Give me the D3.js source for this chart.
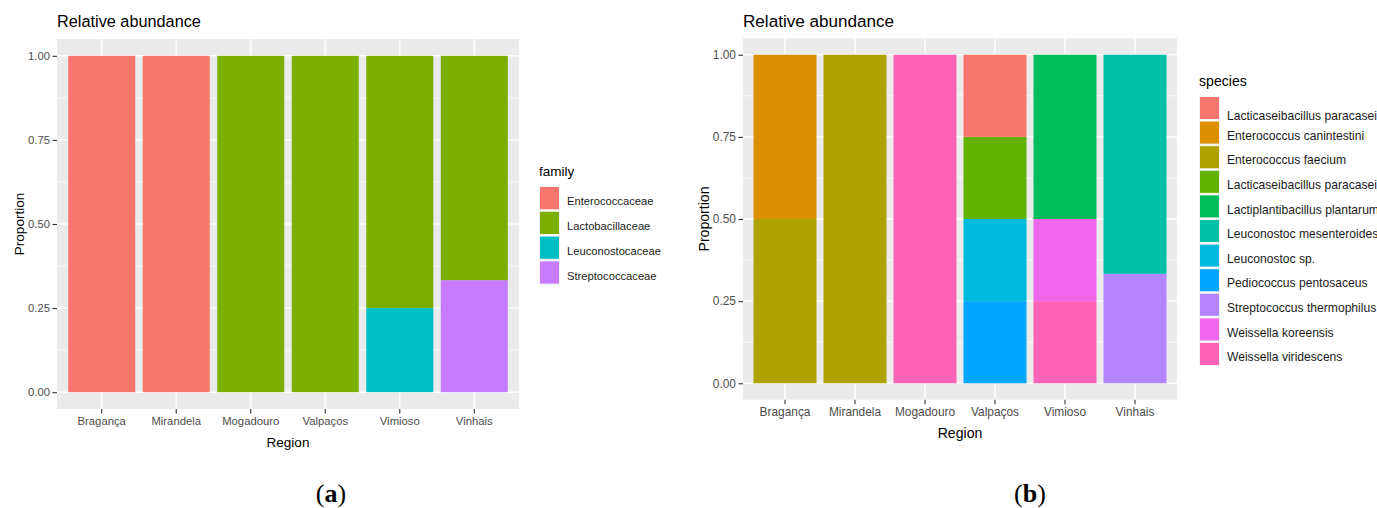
<!DOCTYPE html>
<html>
<head>
<meta charset="utf-8">
<script src="https://cdn.jsdelivr.net/npm/d3@7"></script>
<style>
  body { margin: 0; background: #fff; }
  svg { display: block; font-family: "Liberation Sans", Arial, sans-serif; }
</style>
</head>
<body>
<svg id="chart" width="1377" height="508"></svg>
<script>
// ---- data ----
const regions = ["Bragança", "Mirandela", "Mogadouro", "Valpaços", "Vimioso", "Vinhais"];
const yTicks = [0, 0.25, 0.5, 0.75, 1];

const families = ["Enterococcaceae", "Lactobacillaceae", "Leuconostocaceae", "Streptococcaceae"];
const familyColors = ["#F8766D", "#7CAE00", "#00BFC4", "#C77CFF"];
// one row per family, one value per region
const familyValues = [
  [1, 1, 0, 0, 0, 0],
  [0, 0, 1, 1, 0.75, 0.667],
  [0, 0, 0, 0, 0.25, 0],
  [0, 0, 0, 0, 0, 0.333]
];

const species = [
  "Lacticaseibacillus paracasei", "Enterococcus canintestini", "Enterococcus faecium",
  "Lacticaseibacillus paracasei", "Lactiplantibacillus plantarum", "Leuconostoc mesenteroides",
  "Leuconostoc sp.", "Pediococcus pentosaceus", "Streptococcus thermophilus",
  "Weissella koreensis", "Weissella viridescens"
];
const speciesColors = ["#F8766D", "#DB8E00", "#AEA200", "#64B200", "#00BD5C", "#00C1A7",
                       "#00BADE", "#00A6FF", "#B385FF", "#EF67EB", "#FF63B6"];
const speciesValues = [
  [0, 0, 0, 0.25, 0, 0],
  [0.5, 0, 0, 0, 0, 0],
  [0.5, 1, 0, 0, 0, 0],
  [0, 0, 0, 0.25, 0, 0],
  [0, 0, 0, 0, 0.5, 0],
  [0, 0, 0, 0, 0, 0.667],
  [0, 0, 0, 0.25, 0, 0],
  [0, 0, 0, 0.25, 0, 0],
  [0, 0, 0, 0, 0, 0.333],
  [0, 0, 0, 0, 0.25, 0],
  [0, 0, 1, 0, 0.25, 0]
];

const svg = d3.select("#chart");

function drawPanel(p) {
  const g = svg.append("g");
  const f = p.font;

  // ggplot style: 5% expansion on y, 0.6 units on discrete x
  const y = d3.scaleLinear().domain([-0.05, 1.05]).range([p.bottom, p.top]);
  const x = d3.scaleBand().domain(regions).range([p.left, p.right])
    .paddingInner(0.1).paddingOuter(0.15);

  // panel background
  g.append("rect")
    .attr("x", p.left).attr("y", p.top)
    .attr("width", p.right - p.left).attr("height", p.bottom - p.top)
    .attr("fill", "#EBEBEB");

  // minor grid
  g.selectAll(".minor").data([0.125, 0.375, 0.625, 0.875]).enter()
    .append("line")
    .attr("x1", p.left).attr("x2", p.right)
    .attr("y1", d => y(d)).attr("y2", d => y(d))
    .attr("stroke", "#fff").attr("stroke-width", 0.7);

  // major grid
  g.selectAll(".hmajor").data(yTicks).enter()
    .append("line")
    .attr("x1", p.left).attr("x2", p.right)
    .attr("y1", d => y(d)).attr("y2", d => y(d))
    .attr("stroke", "#fff").attr("stroke-width", 1.4);
  g.selectAll(".vmajor").data(regions).enter()
    .append("line")
    .attr("x1", d => x(d) + x.bandwidth() / 2).attr("x2", d => x(d) + x.bandwidth() / 2)
    .attr("y1", p.top).attr("y2", p.bottom)
    .attr("stroke", "#fff").attr("stroke-width", 1.4);

  // stacked bars: first key ends up on top, like ggplot
  const rows = regions.map((r, j) => {
    const o = { region: r };
    p.values.forEach((v, k) => { o[k] = v[j]; });
    return o;
  });
  const keys = d3.range(p.labels.length).reverse();
  const series = d3.stack().keys(keys)(rows);

  g.selectAll(".layer").data(series).enter()
    .append("g")
    .attr("fill", d => p.colors[d.key])
    .selectAll("rect")
    .data(d => d.filter(s => s[1] - s[0] > 0))
    .enter()
    .append("rect")
    .attr("x", d => x(d.data.region))
    .attr("width", x.bandwidth())
    .attr("y", d => y(d[1]))
    .attr("height", d => y(d[0]) - y(d[1]));

  // axes
  const yAxis = g.append("g")
    .attr("transform", `translate(${p.left},0)`)
    .call(d3.axisLeft(y).tickValues(yTicks).tickFormat(d3.format(".2f")).tickSize(4.5).tickPadding(2.5));
  const xAxis = g.append("g")
    .attr("transform", `translate(0,${p.bottom})`)
    .call(d3.axisBottom(x).tickSize(4.5).tickPadding(3));
  [yAxis, xAxis].forEach(a => {
    a.select(".domain").remove();
    a.selectAll(".tick line").attr("stroke", "#333").attr("stroke-width", 1.1);
    a.selectAll(".tick text").attr("fill", "#4D4D4D")
      .style("font-size", f.tick + "px").style("font-family", "Liberation Sans, Arial, sans-serif");
  });

  // titles
  g.append("text")
    .attr("x", p.left).attr("y", 27)
    .attr("font-size", f.title + "px").attr("fill", "#000")
    .text("Relative abundance");
  g.append("text")
    .attr("x", (p.left + p.right) / 2).attr("y", p.bottom + p.xTitleDy)
    .attr("text-anchor", "middle").attr("font-size", f.axis + "px")
    .text("Region");
  g.append("text")
    .attr("transform", `translate(${p.yTitleX},${(p.top + p.bottom) / 2}) rotate(-90)`)
    .attr("text-anchor", "middle").attr("font-size", f.axis + "px")
    .text("Proportion");

  // legend
  const lg = g.append("g").attr("transform", `translate(${p.legendX},${p.legendY})`);
  lg.append("text").attr("x", 0).attr("y", -10).attr("font-size", f.axis + "px").text(p.legendTitle);
  const item = lg.selectAll(".item").data(p.labels).enter()
    .append("g")
    .attr("transform", (d, i) => `translate(0,${i * p.keyStep})`);
  item.append("rect")
    .attr("width", 21).attr("height", p.keyStep - 0.6)
    .attr("fill", "#F2F2F2");
  item.append("rect")
    .attr("x", 1).attr("y", 1)
    .attr("width", 19).attr("height", p.keyStep - 2.6)
    .attr("fill", (d, i) => p.colors[i]);
  item.append("text")
    .attr("x", 28)
    // the first species label sits lower in the original
    .attr("y", (d, i) => p.keyStep / 2 + 7 + (i === 0 ? p.firstShift : 0))
    .attr("font-size", f.legend + "px").attr("fill", "#1A1A1A")
    .text(d => d);

  // caption
  const cap = svg.append("text")
    .attr("x", p.capX).attr("y", 502)
    .attr("text-anchor", "middle")
    .attr("font-family", "Liberation Serif, 'Times New Roman', serif")
    .attr("font-size", "26px").attr("fill", "#000");
  cap.append("tspan").text("(");
  cap.append("tspan").attr("font-weight", "bold").text(p.capLetter);
  cap.append("tspan").text(")");
}

drawPanel({
  left: 57, right: 519, top: 39, bottom: 409, yTitleX: 24, xTitleDy: 38,
  font: { tick: 11.3, title: 16.3, axis: 13.5, legend: 11.2 },
  values: familyValues, labels: families, colors: familyColors,
  legendTitle: "family", legendX: 539, legendY: 186, keyStep: 24.8, firstShift: 0,
  capX: 331, capLetter: "a"
});

drawPanel({
  left: 743, right: 1177, top: 38.3, bottom: 399.7, yTitleX: 709, xTitleDy: 38,
  font: { tick: 11.9, title: 17.1, axis: 14.1, legend: 12.1 },
  values: speciesValues, labels: species, colors: speciesColors,
  legendTitle: "species", legendX: 1199, legendY: 96, keyStep: 24.6, firstShift: 5,
  capX: 1030, capLetter: "b"
});
</script>
</body>
</html>
